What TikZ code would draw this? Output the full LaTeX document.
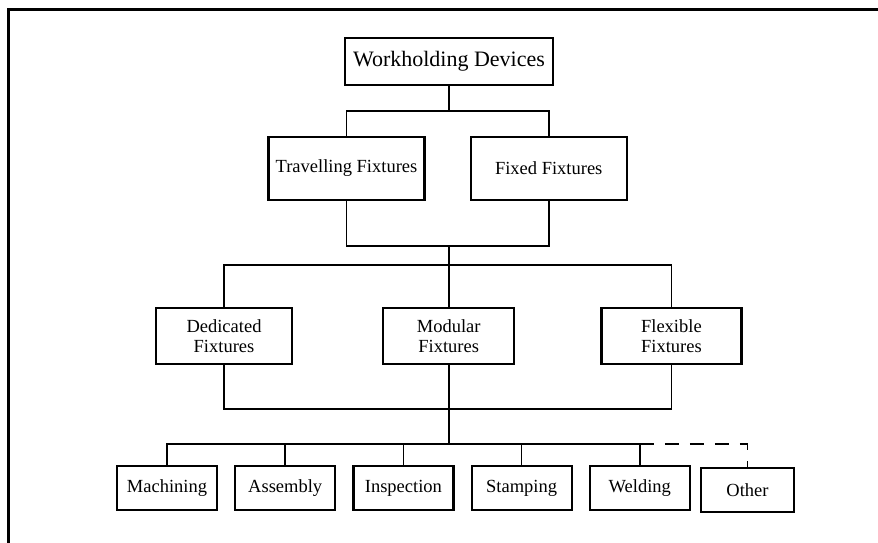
\documentclass[tikz,border=0pt]{standalone}
\usepackage{fontspec}
\setmainfont{Liberation Serif}
\usetikzlibrary{positioning}

\begin{document}
\begin{tikzpicture}[x=1pt,y=-1pt,node distance=16pt,line width=1.6pt,
  box/.style={draw,line width=2.2pt,inner sep=0pt,minimum width=100pt,minimum height=44pt,
    align=center,font=\fontsize{18.5}{20}\selectfont},
  upper/.style={minimum width=156pt,minimum height=63pt},
  mid/.style={minimum height=56pt},
  frame/.style={line width=3pt}]
\useasboundingbox (0,0) rectangle (878,543);
%\draw[red] (0,0) rectangle (878,543);
\draw[frame] (8,543) -- (8,10) -- (878,10);

\path node[box,minimum width=208pt,minimum height=47pt,font=\fontsize{22}{24}\selectfont] (wd) at (449,61.5) {Workholding Devices};

\path node[box,upper] (tf) at (346.5,168.5) {Travelling Fixtures};
\path node[box,upper,right=44pt of tf] (ff) {Fixed Fixtures};

\path node[box,mid,minimum width=136pt] (df) at (224,336) {Dedicated\\Fixtures};
\path node[box,mid,minimum width=131pt,right=89pt of df] (mf) {Modular\\Fixtures};
\path node[box,mid,minimum width=140pt,right=85pt of mf] (xf) {Flexible\\Fixtures};

\path node[box] (mach) at (167,488) {Machining};
\path node[box,right=of mach] (asm) {Assembly};
\path node[box,right=of asm] (insp) {Inspection};
\path node[box,right=of insp] (stmp) {Stamping};
\path node[box,right=of stmp] (weld) {Welding};
\path node[box,minimum width=93pt,right=9pt of weld,yshift=-2pt] (oth) {Other};

% travelling / fixed
\draw (wd.south) -- ++(0,25) coordinate (j1);
\draw (tf.north) |- (j1) -| (ff.north);
\draw (tf.south) -- ++(0,45) coordinate (j2) -| (ff.south);

% dedicated / modular / flexible
\draw (mf.north) -- ++(0,-42) coordinate (j3) -- (mf.north |- j2);
\draw (df.north) |- (j3) -| (xf.north);
\draw (df.south) -- ++(0,44) coordinate (j4) -| (xf.south);

% applications
\draw (mf.south) -- ++(0,79) coordinate (j5) -- (mf.south |- j4);
\draw (mach.north) |- (j5) -| (weld.north);
\foreach \n in {asm,insp,stmp}
  \draw (\n.north) -- (\n.north |- j5);
\draw[dash pattern=on 14pt off 11pt] (weld.north |- j5) -| (oth.north);
\end{tikzpicture}
\end{document}
